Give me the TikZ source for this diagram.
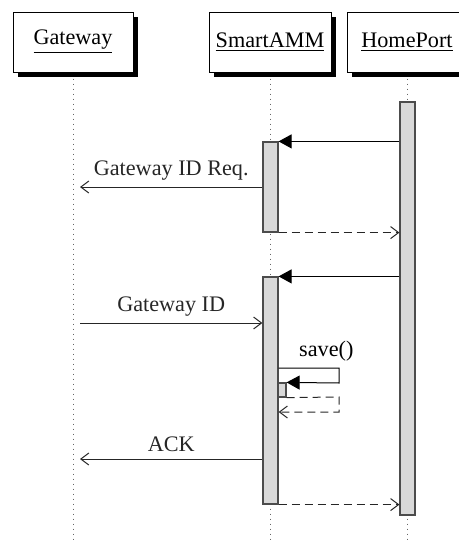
\documentclass[tikz,border=0pt]{standalone}
\usepackage{fontspec}
\setmainfont{Liberation Serif}
\usetikzlibrary{arrows.meta, shadows}

\tikzset{
  actor/.style={draw, fill=white, line width=0.5pt, minimum width=60pt, minimum height=30pt,
    inner sep=0pt, drop shadow={shadow xshift=2.5pt, shadow yshift=-2.5pt, fill=black, opacity=1}},
  lifeline/.style={line width=0.5pt, black!60, dash pattern=on 0.4pt off 2.1pt},
  act/.style={draw=black!70, fill=black!15, line width=0.6pt, minimum width=7.5pt, inner sep=0pt},
  call/.style={-{Triangle[length=6.5pt,width=7pt]}, line width=0.5pt, black},
  msg/.style={-{Straight Barb[length=4pt,width=6pt]}, line width=0.5pt, black!85},
  reply/.style={msg, dash pattern=on 4pt off 2.5pt},
}

\begin{document}
\begin{tikzpicture}[x=0.5pt, y=-0.5pt, font=\fontsize{11.1}{13}\selectfont]
\useasboundingbox (0,0) rectangle (459,542);
% objects
\node[actor] (gw) at (73,42) {\underline{Gateway}};
\node[actor, minimum width=61pt] (sa) at (270,42) {\underline{SmartAMM}};
\node[actor] (hp) at (407,42) {\underline{HomePort}};

% lifelines
\coordinate (bottom) at (0,540);
\draw[lifeline] ([yshift=-3pt]gw.south) -- (gw.south |- bottom);
\draw[lifeline] ([yshift=-3pt]sa.south) -- (sa.south |- bottom);
\draw[lifeline] ([yshift=-3pt]hp.south) -- (hp.south |- bottom);

% activations
\node[act, minimum height=206.5pt] (hpact) at (407.5,308.5) {};
\node[act, minimum height=45pt] (saactA) at (270.5,187) {};
\node[act, minimum height=113.5pt] (saactB) at (270.5,390.5) {};
\node[act, minimum width=4pt, minimum height=7pt] (saveact) at (282,390) {};

% rows
\coordinate (gwx) at (80,0);
\coordinate (r2) at (0,187);
\coordinate (r5) at (0,323);
\coordinate (r6) at (0,368);
\coordinate (r7) at (0,459);
\coordinate (loopa) at (339,368);
\coordinate (loopb) at (339,383);
\coordinate (loopc) at (339,397);
\coordinate (loopd) at (339,412);
\coordinate (r8) at (0,412);

% messages
\draw[call] (hpact.west |- saactA.north) -- (saactA.north east);
\draw[msg] (saactA.west |- r2) -- node[above] {Gateway ID Req.} (gwx |- r2);
\draw[reply] (saactA.south east) -- (hpact.west |- saactA.south);

\draw[call] (hpact.west |- saactB.north) -- (saactB.north east);
\draw[msg] (gwx |- r5) -- node[above] {Gateway ID} (saactB.west |- r5);
\draw[call] (saactB.east |- r6) -- node[pos=0.79, above] {save()} (loopa) -- (loopb) -- (saveact.north east);
\draw[reply] (saveact.south east) -- (loopc) -- (loopd) -- (saactB.east |- r8);
\draw[msg] (saactB.west |- r7) -- node[above] {ACK} (gwx |- r7);
\draw[reply] (saactB.south east) -- (hpact.west |- saactB.south);
\end{tikzpicture}
\end{document}
